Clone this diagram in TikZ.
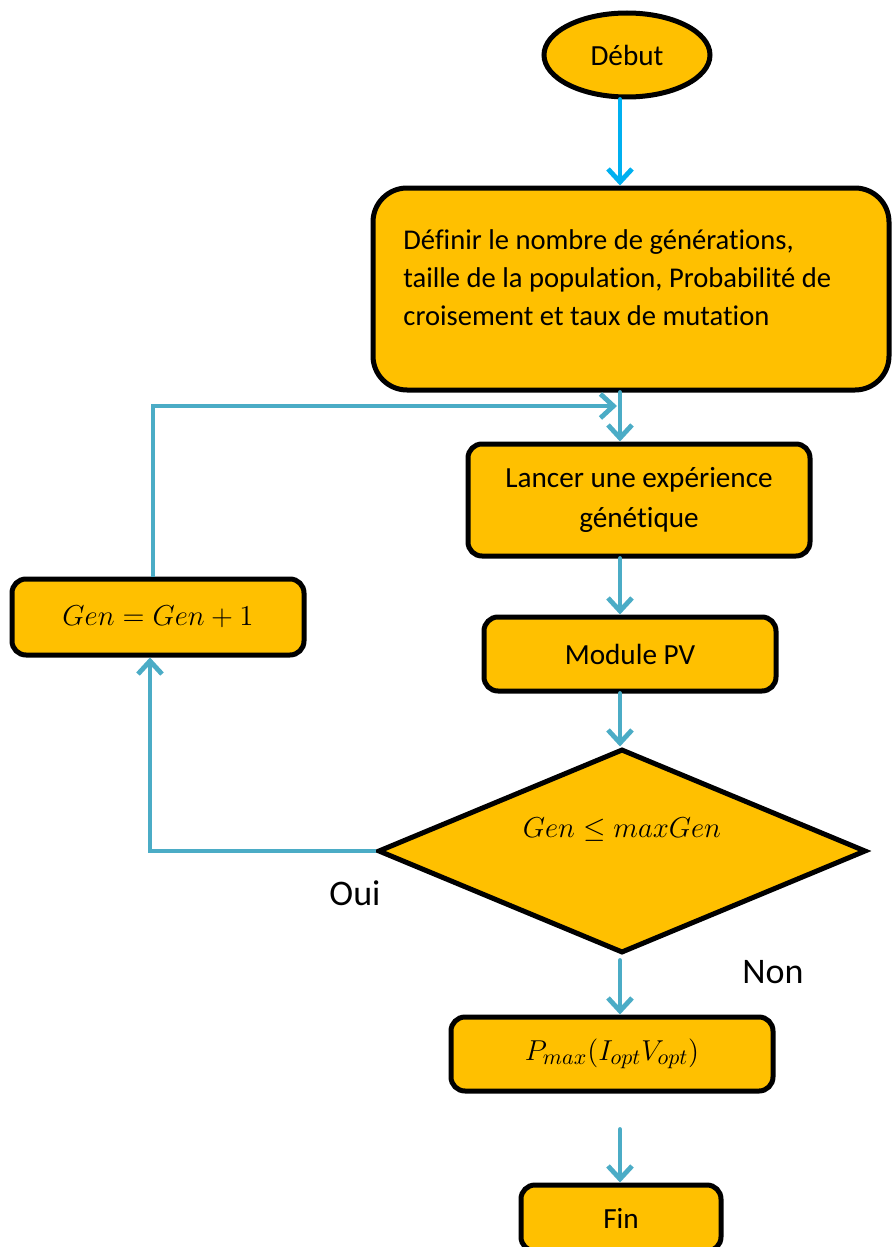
\documentclass[tikz,border=0pt]{standalone}
\usepackage{fontspec}
\setmainfont{Carlito}[Ligatures=NoCommon]
\usetikzlibrary{arrows.meta,shapes.geometric,positioning,calc}

\definecolor{boxfill}{HTML}{FFC000}
\definecolor{flowblue}{HTML}{00B0F0}
\definecolor{flowteal}{HTML}{4BACC6}

\tikzset{
  block/.style={draw=black, fill=boxfill, line width=2.5pt, rounded corners=7pt,
    align=center, font=\fontsize{14.6}{20}\selectfont, inner sep=0pt},
  flow/.style={draw=flowteal, line width=2.4pt, line cap=round,
    -{Straight Barb[length=6.5pt,width=12pt,line width=2.4pt]}},
  answer/.style={font=\fontsize{18}{22}\selectfont}
}

\begin{document}
\begin{tikzpicture}[x=0.5pt,y=-0.5pt]
 \useasboundingbox (0,0) rectangle (893,1247);
 \coordinate (axis) at (620,0);

    % start
    \node[ellipse, draw=black, fill=boxfill, line width=2.5pt, minimum width=83pt,
      minimum height=42pt, font=\fontsize{14.6}{18}\selectfont] (debut) at (627,55) {Début};

    % settings
    \node[block, rounded corners=17pt, minimum width=258pt, minimum height=101pt] (params) at (631,289) {};
    \node[anchor=west, align=left, inner sep=0pt, font=\fontsize{14.3}{19}\selectfont] (paramstext) at (403,278)
      {Définir le nombre de générations,\\taille de la population, Probabilité de\\croisement et taux de mutation};

    % main loop
    \node[block, minimum width=171pt, minimum height=56pt] (lancer) at (639,500) {Lancer une expérience\\génétique};
    \node[block, minimum width=146pt, minimum height=37pt] (module) at (630,654) {Module PV};
    \node[diamond, draw=black, fill=boxfill, line width=2.5pt, minimum width=244pt, minimum height=102pt,
      inner sep=0pt, label={[yshift=10.5pt, font=\fontsize{14}{18}\selectfont]center:$Gen\le maxGen$}] (test) at (622,851) {};
    \node[block, minimum width=146pt, minimum height=38pt] (gen) at (158,617) {$Gen=Gen+1$};

    % end
    \node[block, minimum width=161pt, minimum height=37pt, font=\fontsize{15.6}{20}\selectfont] (pmax) at (612,1054) {$P_{max}(I_{opt}V_{opt})$};
    \node[block, minimum width=100pt, minimum height=33pt] (fin) at (621,1218) {Fin};

    % answers
    \node[answer] (oui) at (355,893) {Oui};
    \node[answer] (non) at (773,972) {Non};

    % arrows
    \draw[flow, draw=flowblue] (debut.south -| axis) -- (params.north -| axis);
    \draw[flow] (params.south -| axis) -- (lancer.north -| axis);
    \draw[flow] (lancer.south -| axis) -- (module.north -| axis);
    \draw[flow] (module.south -| axis) -- (test.north -| axis);
    \draw[flow, shorten <=2.5pt] (test.south -| axis) -- (pmax.north -| axis);
    \draw[flow, shorten <=18pt] (pmax.south -| axis) -- (fin.north -| axis);

    % back to the experiment
    \coordinate (loopin) at (617,406);
    \draw[flow, line cap=butt] (test.west) -| ([xshift=-4pt]gen.south);
    \draw[flow, line cap=butt] ([xshift=-2.5pt]gen.north) |- (loopin);

\end{tikzpicture}
\end{document}
